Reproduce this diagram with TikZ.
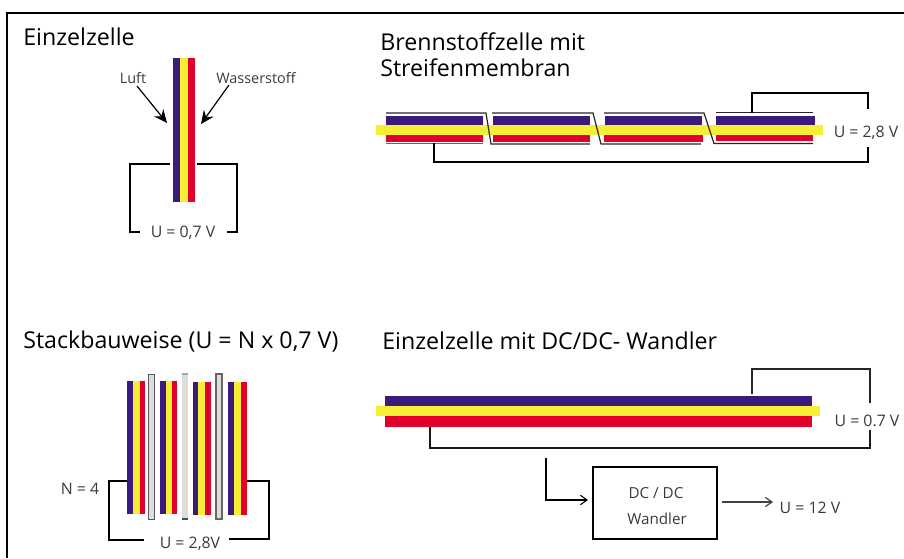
\documentclass[tikz,border=0pt]{standalone}
\usepackage{fontspec}
\setmainfont{Open Sans}
\usetikzlibrary{arrows.meta}
\definecolor{cellblue}{HTML}{3C1A7C}
\definecolor{cellyellow}{HTML}{F5EE33}
\definecolor{cellred}{HTML}{E2002B}
\definecolor{plategray}{HTML}{E0DCD8}
\definecolor{txt}{HTML}{3A3A3A}
\newcommand{\band}[5]{\fill[#1] (#2,#3) rectangle (#4,#5);}
\newcommand{\vcell}[6]{% x0 x1 x2 x3 ytop ybot
  \band{cellblue}{#1}{#5}{#2}{#6}\band{cellyellow}{#2}{#5}{#3}{#6}\band{cellred}{#3}{#5}{#4}{#6}}
\tikzset{
  title/.style={font=\fontsize{17.4}{20}\selectfont,text=black,inner sep=0pt,align=left},
  lbl/.style={font=\fontsize{11.9}{14}\selectfont,text=txt,inner sep=0pt},
  small/.style={font=\fontsize{10.8}{13}\selectfont,text=txt,inner sep=0pt},
  wire/.style={line width=2.2pt,black,line cap=butt,line join=miter},
  hair/.style={line width=.9pt,black!85},
  flow/.style={line width=.9pt,-{Stealth[length=10pt,width=9pt,inset=3.5pt]}},
  openarrow/.style={line width=.9pt,-{Straight Barb[length=5pt,width=7pt]}},
  plate/.style={fill=plategray,draw=#1,line width=.8pt},
}
\begin{document}
\begin{tikzpicture}[x=0.75pt,y=-0.75pt]
\useasboundingbox (0,0) rectangle (904,558);
% frame
\coordinate (fa) at (7,558); \coordinate (fb) at (7,13); \coordinate (fc) at (904,13);
\draw[line width=1pt,black] (fa) -- (fb) -- (fc);
% titles
\node[title,anchor=west] (t1) at (23,37) {Einzelzelle};
\node[title,anchor=west] (t2) at (380,42) {Brennstoffzelle mit};
\node[title,anchor=west] (t3) at (380,68) {Streifenmembran};
\node[title,anchor=west] (t4) at (23,342) {Stackbauweise (U = N x 0,7 V)};
\node[title,anchor=west] (t5) at (382,341) {Einzelzelle mit DC/DC- Wandler};
% Einzelzelle
\vcell{173}{180}{188}{195}{58}{202}
\node[small] (luft) at (133,78) {Luft};
\node[small] (wasser) at (256,78) {Wasserstoff};
\coordinate (la) at (137,86); \coordinate (lb) at (167,123);
\coordinate (wa) at (229,85); \coordinate (wb) at (201,124);
\draw[flow] (la) -- (lb);
\draw[flow] (wa) -- (wb);
\node[lbl] (u1) at (183,233) {U = 0,7 V};
\coordinate (e1) at (170,164); \coordinate (e2) at (130,164); \coordinate (e3) at (130,232); \coordinate (e4) at (140,232);
\coordinate (e5) at (197,164); \coordinate (e6) at (237,164); \coordinate (e7) at (237,232); \coordinate (e8) at (227,232);
\draw[wire] (e1) -- (e2) -- (e3) -- (e4);
\draw[wire] (e5) -- (e6) -- (e7) -- (e8);
% Streifenmembran
\band{cellblue}{386}{116}{483}{125}
\band{cellblue}{493}{116}{590}{125}
\band{cellblue}{605}{116}{702}{125}
\band{cellblue}{716}{116}{815}{125}
\band{cellred}{386}{134}{483}{142}
\band{cellred}{493}{134}{590}{142}
\band{cellred}{604}{134}{703}{142}
\band{cellred}{716}{133}{813}{141}
\band{cellyellow}{376}{125}{823}{135}
\coordinate (s1) at (386,113); \coordinate (s2) at (486,113); \coordinate (s3) at (491,144); \coordinate (s4) at (590,144);
\coordinate (s5) at (492,113); \coordinate (s6) at (593,113); \coordinate (s7) at (601,144); \coordinate (s8) at (701,144);
\coordinate (s9) at (604,113); \coordinate (s10) at (704,113); \coordinate (s11) at (714,143.5); \coordinate (s12) at (813,143.5);
\coordinate (s13) at (716,112.5); \coordinate (s14) at (813,112.5); \coordinate (s15) at (386,143.5); \coordinate (s16) at (483,143.5);
\draw[hair] (s1) -- (s2) -- (s3) -- (s4);
\draw[hair] (s5) -- (s6) -- (s7) -- (s8);
\draw[hair] (s9) -- (s10) -- (s11) -- (s12);
\draw[hair] (s13) -- (s14);
\draw[line width=.9pt,black!60] (s15) -- (s16);
\node[lbl] (u2) at (866,133) {U = 2,8 V};
\coordinate (w1) at (752,113); \coordinate (w2) at (752,93); \coordinate (w3) at (868,93); \coordinate (w4) at (868,109);
\coordinate (w5) at (868,147); \coordinate (w6) at (868,162); \coordinate (w7) at (434,162); \coordinate (w8) at (434,143);
\draw[line width=1.5pt] (w1) -- (w2) -- (w3) -- (w4);
\draw[line width=1.5pt] (w5) -- (w6) -- (w7) -- (w8);
% Stack
\vcell{127}{133}{140}{145}{381}{514}
\vcell{160}{166}{172}{177}{381}{514}
\vcell{193}{198}{205}{211}{382}{515}
\vcell{228}{234}{241}{247}{382}{515}
\filldraw[plate=black!65] (148.5,374.5) rectangle (154.5,519.5);
\fill[plategray] (182,374) rectangle (188,519);
\draw[line width=.8pt,black!35] (182,374) -- (188,374);
\draw[line width=.8pt,black!70] (182,519) -- (188,519);
\filldraw[plate=black!60] (216,374) rectangle (222,519);
\node[lbl] (n4) at (80,489) {N = 4};
\node[lbl] (u3) at (190,544) {U = 2,8V};
\coordinate (k1) at (127,481); \coordinate (k2) at (109,481); \coordinate (k3) at (109,540); \coordinate (k4) at (144,540);
\coordinate (k5) at (247,481); \coordinate (k6) at (269,481); \coordinate (k7) at (269,539); \coordinate (k8) at (229,539);
\draw[line width=1.3pt] (k1) -- (k2) -- (k3) -- (k4);
\draw[line width=1.3pt] (k5) -- (k6) -- (k7) -- (k8);
% DC/DC
\band{cellblue}{385}{396}{812}{406}
\band{cellred}{385}{416}{812}{427}
\band{cellyellow}{376}{406}{820}{416}
\node[lbl] (u4) at (867,421) {U = 0.7 V};
\coordinate (d1) at (752,394); \coordinate (d2) at (752,369); \coordinate (d3) at (870,369); \coordinate (d4) at (870,403);
\coordinate (d5) at (870,430); \coordinate (d6) at (870,448); \coordinate (d7) at (430,448); \coordinate (d8) at (430,427);
\draw[line width=.8pt,black!85] (d1) -- (d2) -- (d3) -- (d4);
\draw[line width=.9pt,black!90] (d5) -- (d6) -- (d7) -- (d8);
\node[draw=black,line width=.8pt,minimum width=93pt,minimum height=54pt,inner sep=0pt] (box) at (655,503) {};
\node[small,font=\fontsize{11.4}{13}\selectfont] (dc) at (656,493) {DC / DC};
\node[small,font=\fontsize{11.4}{13}\selectfont] (wa2) at (657,519) {Wandler};
\node[lbl] (u5) at (810,508) {U = 12 V};
\coordinate (i1) at (546,458); \coordinate (i2) at (546,500); \coordinate (i3) at (588,500);
\draw[openarrow,line width=.8pt] (i1) -- (i2) -- (i3);
\coordinate (o1) at (722,502); \coordinate (o2) at (773,502);
\draw[openarrow,black!75] (o1) -- (o2);
\end{tikzpicture}
\end{document}
